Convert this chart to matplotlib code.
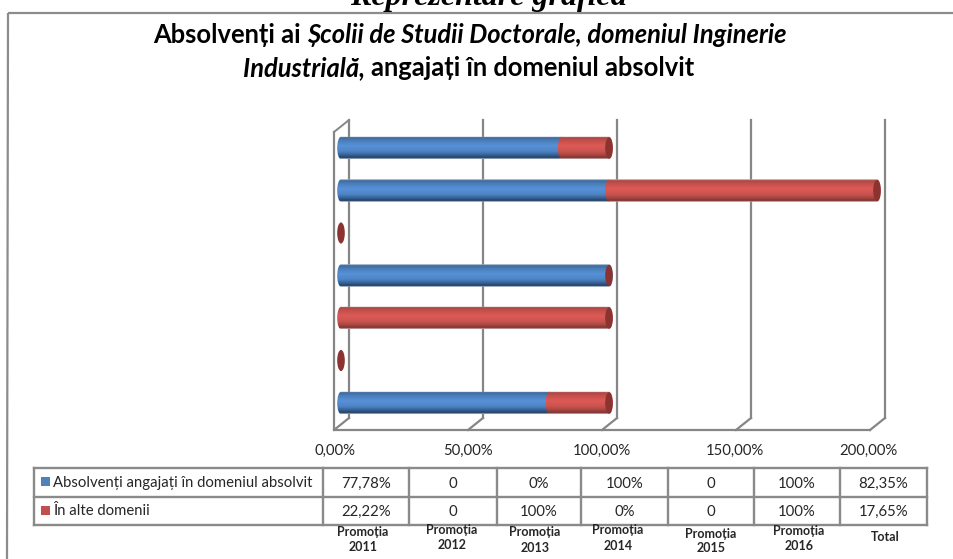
import numpy as np
import matplotlib
matplotlib.use("Agg")
import matplotlib.pyplot as plt
from matplotlib.path import Path
from matplotlib.patches import PathPatch, Ellipse, Rectangle
from matplotlib.colors import LinearSegmentedColormap

FONT = ['Lato', 'Open Sans', 'DejaVu Sans']
plt.rcParams['font.family'] = FONT

categories = ['Promoția 2011', 'Promoția 2012', 'Promoția 2013', 'Promoția 2014',
              'Promoția 2015', 'Promoția 2016', 'Total']
employed = [77.78, 0, 0, 100, 0, 100, 82.35]
other = [22.22, 0, 100, 0, 0, 100, 17.65]
employed_labels = ['77,78%', '0', '0%', '100%', '0', '100%', '82,35%']
other_labels = ['22,22%', '0', '100%', '0%', '0', '100%', '17,65%']
series_names = ['Absolvenți angajați în domeniul absolvit', 'În alte domenii']
ticks = [0, 50, 100, 150, 200]
tick_labels = ['0,00%', '50,00%', '100,00%', '150,00%', '200,00%']

W, H = 954, 559
fig = plt.figure(figsize=(W / 100, H / 100), dpi=100, facecolor='white')

# pixel-space layer for frame, 3D walls, table
bg = fig.add_axes([0, 0, 1, 1], zorder=1)
bg.set_xlim(0, W); bg.set_ylim(H, 0); bg.axis('off')
# data layer: 0 % sits at px X0, 200 % at px X1; a margin leaves room for the round caps
X0, X1, YB, YT = 341, 877, 424.25, 126.75
scale = (X1 - X0) / 200
PAD = 10  # data units
ax = fig.add_axes([(X0 - PAD * scale) / W, 1 - YB / H, (X1 - X0 + 2 * PAD * scale) / W, (YB - YT) / H], zorder=2)
ax.patch.set_alpha(0); ax.axis('off')

GRID = '#868686'
FRAME = '#8c8c8c'
bg.plot([8, 7], [13, H], color=FRAME, lw=1.6, solid_capstyle='butt')
bg.plot([8, W], [13, 13], color=FRAME, lw=1.6, solid_capstyle='butt')

# walls and gridlines
for v in ticks:
    xb = 349 + v * scale
    bg.plot([xb, xb], [120, 418], color=GRID, lw=1.6)
    bg.plot([xb, xb - 15], [418, 430], color=GRID, lw=1.6)
bg.plot([334, 349], [132, 120], color=GRID, lw=1.4)
bg.plot([334, 334, 349 + 200 * scale - 15], [132, 430, 430], color=GRID, lw=1.6)

FS = 10.7
TXT = '#262626'
for lab, xc in zip(tick_labels, [335, 468.5, 602, 735, 868]):
    bg.text(xc, 451, lab, ha='center', va='center', fontsize=FS, color=TXT)

blue = LinearSegmentedColormap.from_list('b', [(0, '#a9bacd'), (0.06, '#3f6a9c'), (0.2, '#4b7fbb'), (0.42, '#5791d8'),
                                               (0.66, '#4f85c6'), (0.84, '#355f92'), (0.95, '#1f3c62'), (1, '#b5c0cc')])
red = LinearSegmentedColormap.from_list('r', [(0, '#d5b0ae'), (0.06, '#ab4744'), (0.2, '#c6504c'), (0.42, '#dc5a56'),
                                              (0.66, '#cc534f'), (0.84, '#a24542'), (0.95, '#7e2f2d'), (1, '#ccb8b7')])
grad = np.linspace(0, 1, 64).reshape(-1, 1)

BH = 0.53
CAP = 3.8 / scale  # half-width of end ellipse, in data units


def cylinder(y, a, b, cmap, z):
    top, bot = y + BH / 2, y - BH / 2
    k = 0.5523
    verts = [(a, bot), (a - k * CAP, bot), (a - CAP, y - k * BH / 2), (a - CAP, y),
             (a - CAP, y + k * BH / 2), (a - k * CAP, top), (a, top)]
    codes = [Path.MOVETO] + [Path.CURVE4] * 6
    verts += [(b, top), (b + k * CAP, top), (b + CAP, y + k * BH / 2), (b + CAP, y),
              (b + CAP, y - k * BH / 2), (b + k * CAP, bot), (b, bot), (a, bot)]
    codes += [Path.LINETO] + [Path.CURVE4] * 6 + [Path.CLOSEPOLY]
    path = Path(verts, codes)
    im = ax.imshow(grad, extent=(a - CAP, b + CAP, bot, top), cmap=cmap, aspect='auto', origin='upper',
                   zorder=z, interpolation='bilinear')
    im.set_clip_path(PathPatch(path, transform=ax.transData))


for i, (e, o) in enumerate(zip(employed, other)):
    if e > 0:
        cylinder(i, 0, e, blue, 3)
    if o > 0:
        cylinder(i, e, e + o, red, 4)
    ax.add_patch(Ellipse((e + o, i), 2 * CAP, BH * 0.94, facecolor='#8a3331', edgecolor='none', zorder=5))

ax.set_xlim(-PAD, 200 + PAD)
ax.set_ylim(-0.5, 6.5)

# data table
xs = [34, 323, 409, 497, 581, 668, 754, 840, 927]
ys = [468, 497, 525]
TC = '#8a8a8a'
for x in xs:
    bg.plot([x, x], [ys[0], ys[-1]], color=TC, lw=1.7, solid_capstyle='projecting')
for y in ys:
    bg.plot([xs[0], xs[-1]], [y, y], color=TC, lw=1.7, solid_capstyle='projecting')

row_y = [483.5, 512]
for i, (a, b) in enumerate(zip(employed_labels, other_labels)):
    xc = (xs[i + 1] + xs[i + 2]) / 2
    bg.text(xc, row_y[0], a, ha='center', va='center', fontsize=FS, color=TXT)
    bg.text(xc, row_y[1], b, ha='center', va='center', fontsize=FS, color=TXT)

bg.add_patch(Rectangle((41, 477), 9, 9, facecolor='#4f81bd', edgecolor='none'))
bg.add_patch(Rectangle((41, 506), 9, 9, facecolor='#c0504d', edgecolor='none'))
bg.text(53, 483, series_names[0], ha='left', va='center', fontsize=FS, color=TXT)
bg.text(53, 511, series_names[1], ha='left', va='center', fontsize=FS, color=TXT)

cat_pos = [(363, 539.5), (452, 537.5), (535, 540), (618, 538), (711, 541), (799, 538.5), (885, 537)]
for name, (cx, cy) in zip(categories, cat_pos):
    bg.text(cx, cy, name.replace(' ', '\n'), ha='center', va='center', fontsize=9.0,
            fontweight='bold', linespacing=1.3, color=TXT)

# titles
bg.text(488, 5, 'Reprezentare grafică', family=['Liberation Serif'], fontsize=23, fontweight='bold',
        fontstyle='italic', ha='center', va='baseline', color='black', clip_on=False)


def mixed(pieces, cx, y, size):
    r = fig.canvas.get_renderer()
    items = []
    total = 0
    for s, style in pieces:
        t = bg.text(0, y, s, fontsize=size, fontweight='bold', fontstyle=style, ha='left', va='center',
                    color='black')
        w = t.get_window_extent(r).width
        items.append((t, w))
        total += w
    x = cx - total / 2
    for t, w in items:
        t.set_x(x)
        x += w


mixed([('Absolvenți ai ', 'normal'), ('Școlii de Studii Doctorale, domeniul Inginerie', 'italic')], 470, 35, 18.4)
mixed([('Industrială, ', 'italic'), ('angajați în domeniul absolvit', 'normal')], 469, 68, 18.4)

fig.savefig('out.png', dpi=100)
